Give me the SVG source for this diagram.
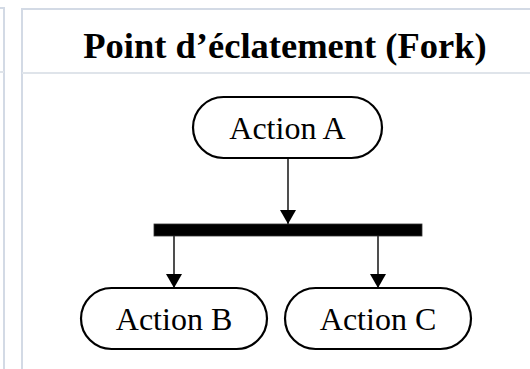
<svg xmlns="http://www.w3.org/2000/svg" width="530" height="369" viewBox="0 0 530 369">
  <style>
    .frame { fill: none; stroke: #d3dae5; stroke-width: 2; }
    .sep { fill: none; stroke: #dfe4ea; stroke-width: 2; }
    .title { font-family: "Liberation Serif", "Times New Roman", serif; font-weight: bold; font-size: 36.5px; fill: #000; }
    .action rect { fill: #fff; stroke: #000; stroke-width: 2.2; }
    .action text { font-family: "Liberation Serif", "Times New Roman", serif; font-size: 32px; fill: #000; text-anchor: middle; }
    .edge { fill: none; stroke: #222; stroke-width: 1.6; marker-end: url(#arrow); }
  </style>
  <defs>
    <marker id="arrow" viewBox="0 0 14 16" refX="14" refY="8" markerWidth="14" markerHeight="16" markerUnits="userSpaceOnUse" orient="auto">
      <path d="M0,0 L14,8 L0,16 Z" fill="#000"/>
    </marker>
  </defs>

  <rect width="530" height="369" fill="#fff"/>

  <!-- neighbouring panel edge -->
  <g id="panel-left">
    <path class="frame" d="M0,8 H4 V369"/>
    <path class="sep" d="M0,72 H4"/>
  </g>

  <!-- main panel frame and header -->
  <g id="panel-fork">
    <path class="frame" d="M22,369 V9 H530"/>
    <path class="sep" d="M22,73 H530"/>
    <text class="title" x="285" y="58" text-anchor="middle">Point d’éclatement (Fork)</text>
  </g>

  <!-- connectors -->
  <g id="connectors">
    <path class="edge" d="M288,159 V224"/>
    <path class="edge" d="M174,236 V288"/>
    <path class="edge" d="M378,236 V288"/>
  </g>

  <g id="action-a" class="action">
    <rect x="193" y="97" width="189" height="61" rx="30.5"/>
    <text x="287.5" y="139">Action A</text>
  </g>

  <g id="fork-bar">
    <rect x="154" y="224" width="268" height="12" fill="#000" stroke="#333" stroke-width="0.8"/>
  </g>

  <g id="action-b" class="action">
    <rect x="81" y="288" width="186" height="61" rx="30.5"/>
    <text x="174" y="330">Action B</text>
  </g>

  <g id="action-c" class="action">
    <rect x="285" y="288" width="186" height="61" rx="30.5"/>
    <text x="378" y="330">Action C</text>
  </g>
</svg>
